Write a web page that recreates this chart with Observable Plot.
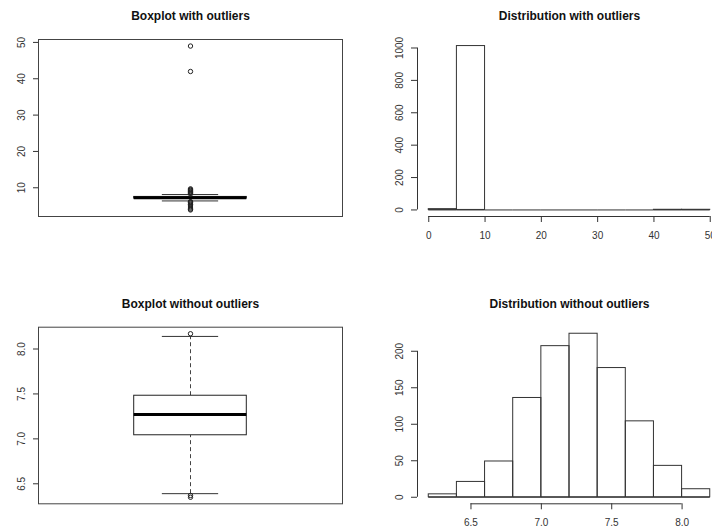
<!DOCTYPE html>
<html><head><meta charset="utf-8">
<script src="https://cdn.jsdelivr.net/npm/d3@7"></script>
<script src="https://cdn.jsdelivr.net/npm/@observablehq/plot@0.6"></script>
<style>
html,body{margin:0;padding:0;background:#fff;overflow:hidden;}
#page{position:relative;width:712px;height:531px;overflow:hidden;background:#fff;}
.panel{position:absolute;}
.panel svg{max-width:none !important;}
</style></head><body><div id="page"></div>
<script>
// ---------- data ----------
const titles = ["Boxplot with outliers", "Distribution with outliers", "Boxplot without outliers", "Distribution without outliers"];

// boxplot stats: [lower whisker, Q1, median, Q3, upper whisker]
const boxStatsWith = [6.38, 7.04, 7.27, 7.48, 8.14];
const outliersWith = [49, 42, 9.7, 9.5, 9.3, 9.1, 8.9, 8.7, 8.5, 8.3, 6.2, 6.0, 5.8, 5.5, 5.3, 5.0, 4.7, 4.4, 4.1, 3.9];
const boxStatsWithout = [6.39, 7.04, 7.27, 7.48, 8.14];
const outliersWithout = [8.17, 6.37, 6.35];

const breaksWith = [0, 5, 10, 15, 20, 25, 30, 35, 40, 45, 50];
const countsWith = [5, 1012, 0, 0, 0, 0, 0, 0, 1, 1];
const breaksWithout = [6.2, 6.4, 6.6, 6.8, 7.0, 7.2, 7.4, 7.6, 7.8, 8.0, 8.2];
const countsWithout = [4, 21, 49, 136, 207, 224, 177, 104, 43, 11];

const yTicksBoxWith = [10, 20, 30, 40, 50];
const yTicksBoxWithout = [6.5, 7.0, 7.5, 8.0];
const xTicksHistWith = [0, 10, 20, 30, 40, 50];
const yTicksHistWith = [0, 200, 400, 600, 800, 1000];
const xTicksHistWithout = [6.5, 7.0, 7.5, 8.0];
const yTicksHistWithout = [0, 50, 100, 150, 200];

// ---------- layout / style ----------
const layout = {
  tl: {left: 0, top: 0, width: 356, height: 265, ml: 38, mr: 14, mt: 39, mb: 49},
  tr: {left: 356, top: 0, width: 370, height: 265, ml: 61, mr: 5, mt: 39, mb: 49},
  bl: {left: 0, top: 265, width: 356, height: 266, ml: 38, mr: 14, mt: 61.7, mb: 27.7},
  br: {left: 356, top: 265, width: 370, height: 266, ml: 61, mr: 5, mt: 61.7, mb: 27.7}
};
const lineColor = "#333";
const boxPos = 1, boxWidth = 0.4, stapleWidth = 0.2;
const fmtInt = d3.format("d"), fmt1 = d3.format(".1f");
const style = {fontFamily: "'Liberation Sans', Arial, Helvetica, sans-serif", fontSize: "10px", color: "#333", background: "white", overflow: "visible", maxWidth: "none"};

function ext(values) {
  const [a, b] = d3.extent(values);
  const e = (b - a) * 0.04;
  return [a - e, b + e];
}

function titleMark(t) {
  return Plot.text([t], {text: d => d, frameAnchor: "top", dy: -19.3, lineAnchor: "bottom",
    fontWeight: "bold", fontSize: 12, fill: "#111"});
}

function boxPlot(L, title, stats, outliers, yTicks, fmt) {
  const [lo, q1, med, q3, hi] = stats;
  const box = [{x: boxPos, lo, q1, med, q3, hi}];
  return Plot.plot({
    width: L.width, height: L.height,
    marginLeft: L.ml, marginRight: L.mr, marginTop: L.mt, marginBottom: L.mb,
    style,
    x: {domain: ext([boxPos - 0.5, boxPos + 0.5]), axis: null},
    y: {domain: ext([...stats, ...outliers]), label: null},
    marks: [
      Plot.ruleX(box, {x: "x", y1: "q3", y2: "hi", stroke: "#444", strokeDasharray: "4,3"}),
      Plot.ruleX(box, {x: "x", y1: "lo", y2: "q1", stroke: "#444", strokeDasharray: "4,3"}),
      Plot.ruleY(box, {y: "hi", x1: d => d.x - stapleWidth / 2, x2: d => d.x + stapleWidth / 2, stroke: lineColor}),
      Plot.ruleY(box, {y: "lo", x1: d => d.x - stapleWidth / 2, x2: d => d.x + stapleWidth / 2, stroke: lineColor}),
      Plot.rect(box, {x1: d => d.x - boxWidth / 2, x2: d => d.x + boxWidth / 2, y1: "q1", y2: "q3", fill: "white", stroke: "#222"}),
      Plot.ruleY(box, {y: "med", x1: d => d.x - boxWidth / 2, x2: d => d.x + boxWidth / 2, stroke: "black", strokeWidth: 3}),
      Plot.dot(outliers, {x: () => boxPos, y: d => d, r: 2.2, stroke: "#222", fill: "none", strokeWidth: 1}),
      Plot.frame({stroke: "#444"}),
      Plot.axisY({ticks: yTicks, tickFormat: fmt, tickRotate: -90, tickSize: 5, tickPadding: 9, stroke: lineColor}),
      titleMark(title)
    ]
  });
}

function histPlot(L, title, breaks, counts, xTicks, yTicks, xFmt) {
  const bins = counts.map((c, i) => ({lo: breaks[i], hi: breaks[i + 1], count: c}));
  const xDom = ext([breaks[0], breaks[breaks.length - 1]]);
  const yDom = ext([0, d3.max(counts)]);
  return Plot.plot({
    width: L.width, height: L.height,
    marginLeft: L.ml, marginRight: L.mr, marginTop: L.mt, marginBottom: L.mb,
    style,
    x: {domain: xDom, label: null},
    y: {domain: yDom, label: null},
    marks: [
      Plot.ruleY(bins, {x1: "lo", x2: "hi", y: 0, stroke: lineColor}),
      Plot.rect(bins, {x1: "lo", x2: "hi", y1: 0, y2: "count", fill: "none", stroke: lineColor}),
      Plot.ruleX([xDom[0]], {y1: yTicks[0], y2: yTicks[yTicks.length - 1], stroke: lineColor}),
      Plot.ruleY([yDom[0]], {x1: xTicks[0], x2: xTicks[xTicks.length - 1], stroke: lineColor}),
      Plot.axisX({ticks: xTicks, tickFormat: xFmt, tickSize: 6, tickPadding: 9, stroke: lineColor}),
      Plot.axisY({ticks: yTicks, tickFormat: fmtInt, tickRotate: -90, tickSize: 6, tickPadding: 9, stroke: lineColor}),
      titleMark(title)
    ]
  });
}

const page = document.getElementById("page");
function place(L, node) {
  const d = document.createElement("div");
  d.className = "panel";
  d.style.left = L.left + "px";
  d.style.top = L.top + "px";
  d.style.width = L.width + "px";
  d.style.height = L.height + "px";
  node.style.maxWidth = "none";
  d.appendChild(node);
  page.appendChild(d);
}

place(layout.tl, boxPlot(layout.tl, titles[0], boxStatsWith, outliersWith, yTicksBoxWith, fmtInt));
place(layout.tr, histPlot(layout.tr, titles[1], breaksWith, countsWith, xTicksHistWith, yTicksHistWith, fmtInt));
place(layout.bl, boxPlot(layout.bl, titles[2], boxStatsWithout, outliersWithout, yTicksBoxWithout, fmt1));
place(layout.br, histPlot(layout.br, titles[3], breaksWithout, countsWithout, xTicksHistWithout, yTicksHistWithout, fmt1));
</script></body></html>
